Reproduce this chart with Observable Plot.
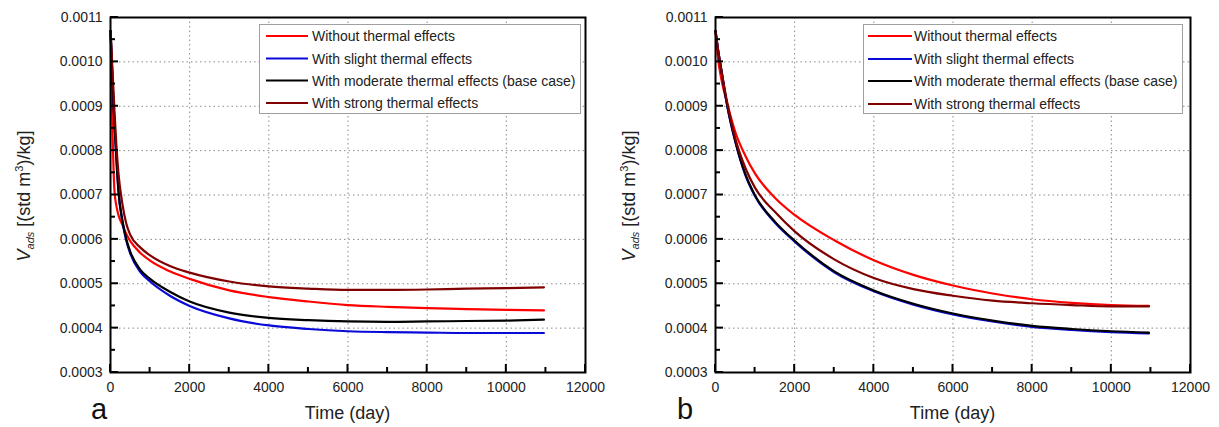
<!DOCTYPE html>
<html><head><meta charset="utf-8">
<script src="https://cdn.jsdelivr.net/npm/d3@7"></script>
<script src="https://cdn.jsdelivr.net/npm/@observablehq/plot@0.6"></script>
<style>
html,body{margin:0;padding:0;background:#fff;}
#wrap{position:relative;width:1219px;height:427px;overflow:hidden;background:#fff;}
#wrap svg{position:absolute;top:0;}
</style></head><body><div id="wrap"></div>
<script>
// ---------- data ----------
const seriesNames = [
  "Without thermal effects",
  "With slight thermal effects",
  "With moderate thermal effects (base case)",
  "With strong thermal effects"
];
const seriesColors = ["#ff0000", "#0a0ad8", "#000000", "#800000"];

// Panel a
const timeA = [0, 25, 50, 100, 150, 200, 300, 400, 500, 750, 1000, 1500, 2000, 3000, 4000, 5000, 6000, 7000, 8000, 9000, 10000, 10950];
const aWithout  = [0.00107, 0.00096, 0.00085, 0.00071, 0.000675, 0.000655, 0.000633, 0.000612, 0.000596, 0.00057, 0.000552, 0.000528, 0.000511, 0.000485, 0.00047, 0.00046, 0.000452, 0.000448, 0.000445, 0.000443, 0.000441, 0.00044];
const aSlight   = [0.00107, 0.00102, 0.00096, 0.00086, 0.00078, 0.00071, 0.000641, 0.000597, 0.000568, 0.000527, 0.000505, 0.000473, 0.00045, 0.000422, 0.000406, 0.000398, 0.000393, 0.000391, 0.00039, 0.000389, 0.000389, 0.000389];
const aModerate = [0.00107, 0.00102, 0.00096, 0.00086, 0.00078, 0.00071, 0.000643, 0.0006, 0.000572, 0.000532, 0.000511, 0.000482, 0.00046, 0.000435, 0.000423, 0.000418, 0.000415, 0.000414, 0.000415, 0.000416, 0.000417, 0.000419];
const aStrong   = [0.00107, 0.00103, 0.00098, 0.00089, 0.00081, 0.00075, 0.00068, 0.000635, 0.00061, 0.000582, 0.000564, 0.00054, 0.000525, 0.000505, 0.000494, 0.000489, 0.000486, 0.000486, 0.000487, 0.000489, 0.00049, 0.000492];

// Panel b
const timeB = [0, 60, 150, 300, 500, 750, 1000, 1500, 2000, 3000, 4000, 5000, 6000, 7000, 8000, 9000, 10000, 10950];
const bWithout  = [0.00107, 0.00101, 0.00096, 0.000905, 0.000842, 0.000789, 0.000748, 0.000694, 0.000655, 0.000598, 0.000553, 0.00052, 0.000496, 0.000478, 0.000465, 0.000457, 0.000452, 0.00045];
const bSlight   = [0.00107, 0.00103, 0.00098, 0.000899, 0.00082, 0.000746, 0.000697, 0.000638, 0.000595, 0.000526, 0.000483, 0.000453, 0.000431, 0.000415, 0.000403, 0.000396, 0.000391, 0.000388];
const bModerate = [0.00107, 0.00103, 0.00098, 0.0009, 0.000822, 0.000748, 0.000699, 0.00064, 0.000597, 0.000528, 0.000485, 0.000455, 0.000433, 0.000417, 0.000405, 0.000398, 0.000393, 0.00039];
const bStrong   = [0.00107, 0.00103, 0.00098, 0.000906, 0.000828, 0.000762, 0.000716, 0.000662, 0.000618, 0.000555, 0.000513, 0.000488, 0.000473, 0.000462, 0.000456, 0.000452, 0.000449, 0.000449];

// Ticks
const xTicks = [0, 2000, 4000, 6000, 8000, 10000, 12000];
const xMinorTicks = [1000, 3000, 5000, 7000, 9000, 11000];
const xGrid = [2000, 4000, 6000, 8000, 10000];
const yTicks = [0.0003, 0.0004, 0.0005, 0.0006, 0.0007, 0.0008, 0.0009, 0.0010, 0.0011];
const yMinorTicks = [0.00035, 0.00045, 0.00055, 0.00065, 0.00075, 0.00085, 0.00095, 0.00105];
const yGrid = [0.0004, 0.0005, 0.0006, 0.0007, 0.0008, 0.0009, 0.0010];
const xLabel = "Time (day)";
const panelLetters = ["a", "b"];

// ---------- drawing ----------
const FONT = "'Liberation Sans', Arial, Helvetica, sans-serif";
const MT = 17, MB = 55, ML = 110, H = 427, PW = 475;
const PH = H - MT - MB; // plot area height

function tidy(time, vals) {
  return time.map((t, i) => ({t, v: vals[i]}));
}

function makePanel(time, seriesVals, cfg) {
  const marks = [
    Plot.gridX(xGrid, {stroke: "#8a8a8a", strokeOpacity: 1, strokeWidth: 1, strokeDasharray: "1.5,3"}),
    Plot.gridY(yGrid, {stroke: "#8a8a8a", strokeOpacity: 1, strokeWidth: 1, strokeDasharray: "1.5,3"}),
  ];
  seriesVals.forEach((vals, i) => {
    marks.push(Plot.line(tidy(time, vals), {x: "t", y: "v", stroke: seriesColors[i], strokeWidth: 2.2, curve: "monotone-x"}));
  });
  marks.push(
    Plot.axisX({ticks: xTicks, tickSize: 0, tickPadding: 10, tickFormat: d => String(d), label: null, fontSize: 14, fill: "#222"}),
    Plot.axisY({ticks: yTicks, tickSize: 0, tickPadding: 8, tickFormat: d3.format(".4f"), label: null, fontSize: 14, fill: "#222"}),
    Plot.frame({stroke: "#000", strokeWidth: 2})
  );
  const svg = Plot.plot({
    width: cfg.width, height: H,
    marginLeft: ML, marginRight: cfg.marginRight, marginTop: MT, marginBottom: MB,
    x: {domain: [0, 12000]},
    y: {domain: [0.0003, 0.0011]},
    style: {fontFamily: FONT, fontSize: "14px", color: "#000", background: "white", overflow: "visible"},
    marks
  });
  const s = d3.select(svg);
  const xs = svg.scale("x"), ys = svg.scale("y");
  const bottom = H - MB, left = ML;
  // inward tick marks placed with Plot's own scales
  const tg = s.append("g").attr("stroke", "#000").attr("stroke-width", 2);
  [[xTicks, 8], [xMinorTicks, 5]].forEach(([arr, len]) => arr.forEach(v => {
    const px = xs.apply(v);
    tg.append("line").attr("x1", px).attr("x2", px).attr("y1", bottom).attr("y2", bottom - len);
  }));
  [[yTicks, 8], [yMinorTicks, 5]].forEach(([arr, len]) => arr.forEach(v => {
    const py = ys.apply(v);
    tg.append("line").attr("x1", left).attr("x2", left + len).attr("y1", py).attr("y2", py);
  }));
  // y label
  const yl = s.append("text")
    .attr("transform", `translate(${cfg.yLabelX},196) rotate(-90)`)
    .attr("text-anchor", "middle")
    .attr("font-family", FONT).attr("font-size", 18).attr("fill", "#222");
  yl.append("tspan").attr("font-style", "italic").text("V");
  yl.append("tspan").attr("font-style", "italic").attr("font-size", 11).attr("dy", 4).text("ads");
  yl.append("tspan").attr("dy", -4).text(" [(std m");
  yl.append("tspan").attr("font-size", 11).attr("dy", -7).text("3");
  yl.append("tspan").attr("dy", 7).text(")/kg]");
  // x label
  s.append("text").attr("x", ML + PW / 2).attr("y", 419)
    .attr("text-anchor", "middle").attr("font-family", FONT).attr("font-size", 18).attr("fill", "#222")
    .text(xLabel);
  // panel letter
  s.append("text").attr("x", cfg.letterX).attr("y", 419)
    .attr("text-anchor", "start")
    .attr("font-family", FONT).attr("font-size", 29).attr("fill", "#111")
    .text(cfg.letter);
  // legend
  const L = cfg.legend;
  const g = s.append("g").attr("text-anchor", "start");
  g.append("rect").attr("x", L.x).attr("y", L.y).attr("width", L.w).attr("height", L.h)
    .attr("fill", "#fff").attr("stroke", "#a0a0a0").attr("stroke-width", 1);
  seriesNames.forEach((name, i) => {
    const yy = L.rows[i];
    g.append("line").attr("x1", L.l1).attr("x2", L.l2).attr("y1", yy).attr("y2", yy)
      .attr("stroke", seriesColors[i]).attr("stroke-width", 2.2);
    g.append("text").attr("x", L.tx).attr("y", yy).attr("dy", "0.36em")
      .attr("text-anchor", "start")
      .attr("font-family", FONT).attr("font-size", 14).attr("fill", "#222").text(name);
  });
  svg.style.left = cfg.left + "px";
  return svg;
}

const wrap = document.getElementById("wrap");
wrap.appendChild(makePanel(timeA, [aWithout, aSlight, aModerate, aStrong], {
  width: 605, marginRight: 20, left: 0, yLabelX: 30, letterX: 91, letter: panelLetters[0],
  legend: {x: 259.5, y: 24.5, w: 321, h: 89, l1: 266, l2: 308, tx: 312, rows: [36, 58.5, 80.5, 103]}
}));
wrap.appendChild(makePanel(timeB, [bWithout, bSlight, bModerate, bStrong], {
  width: 614, marginRight: 29, left: 605, yLabelX: 30, letterX: 72, letter: panelLetters[1],
  legend: {x: 258.5, y: 24.5, w: 319, h: 89, l1: 263, l2: 307, tx: 309, rows: [36, 59, 81, 104]}
}));
</script></body></html>
